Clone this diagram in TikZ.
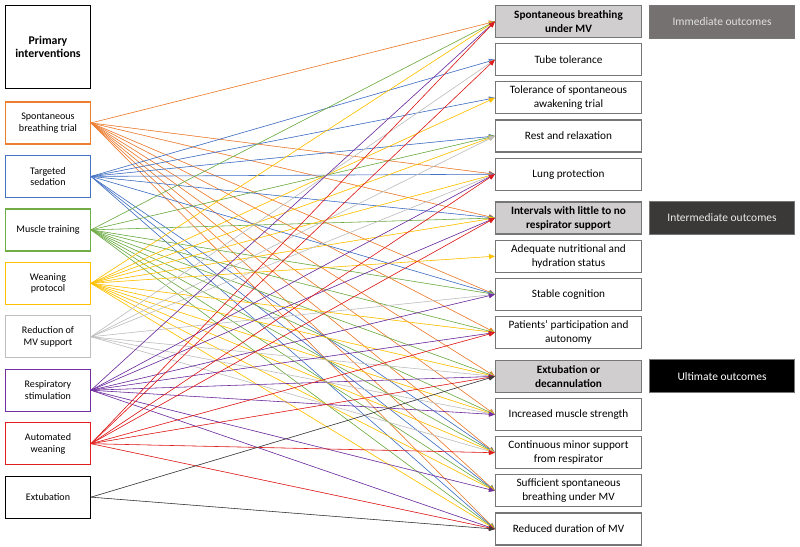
\documentclass[tikz,border=0pt]{standalone}
\usepackage{fontspec}
\setmainfont{Carlito}
\usetikzlibrary{arrows.meta, positioning}
\definecolor{sbtorange}{RGB}{237,125,49}
\definecolor{sedblue}{RGB}{68,114,196}
\definecolor{musgreen}{RGB}{112,173,71}
\definecolor{weangold}{RGB}{255,192,0}
\definecolor{mvgray}{RGB}{191,191,191}
\definecolor{stimpurple}{RGB}{112,48,160}
\definecolor{autored}{RGB}{224,30,30}
\definecolor{extblack}{RGB}{60,60,60}
\definecolor{framegray}{RGB}{118,118,118}
\definecolor{keyfill}{RGB}{208,206,206}
\definecolor{immfill}{RGB}{118,113,113}
\definecolor{intfill}{RGB}{59,56,56}

\begin{document}
\begin{tikzpicture}[
    x=0.3mm, y=-0.3mm,
    interv/.style={rectangle, draw=#1, line width=1.1pt, fill=white, minimum width=25.4mm, minimum height=12.6mm, inner sep=1pt, align=center, font=\fontsize{8.6}{10}\selectfont},
    outcome/.style={rectangle, draw=framegray, line width=1pt, fill=white, minimum width=43.8mm, minimum height=9.6mm, inner sep=1pt, align=center, font=\fontsize{9.6}{12}\selectfont},
    keyout/.style={outcome, fill=keyfill, font=\fontsize{9.6}{12}\selectfont\bfseries},
    level/.style={rectangle, draw=framegray, line width=0.8pt, fill=#1, minimum width=43.5mm, minimum height=9.9mm, align=center, font=\fontsize{9.8}{11}\selectfont},
    link/.style={-{Triangle[length=1.8mm, width=1.5mm]}, line width=0.5pt, draw=#1, fill=#1}
]
\useasboundingbox (0,0) rectangle (800,547);

% Interventions
\node[interv=black, minimum height=24.8mm, font=\fontsize{10.1}{11}\selectfont\bfseries] (prim) at (48,47) {Primary\\interventions};
\node[interv=sbtorange, below=3.7mm of prim] (sbt) {Spontaneous\\breathing trial};
\node[interv=sedblue, below=3.05mm of sbt] (sed) {Targeted\\sedation};
\node[interv=musgreen, below=3.05mm of sed] (mus) {Muscle training};
\node[interv=weangold, below=3.05mm of mus] (wean) {Weaning\\protocol};
\node[interv=mvgray, below=3.05mm of wean] (redmv) {Reduction of\\MV support};
\node[interv=stimpurple, below=3.05mm of redmv] (stim) {Respiratory\\stimulation};
\node[interv=autored, below=3.05mm of stim] (auto) {Automated\\weaning};
\node[interv=black, below=3.05mm of auto] (extub) {Extubation};

% Outcomes
\node[keyout] (o1) at (568.5,21.5) {Spontaneous breathing\\under MV};
\node[outcome, below=1.5mm of o1] (o2) {Tube tolerance};
\node[outcome, below=1.5mm of o2] (o3) {Tolerance of spontaneous\\awakening trial};
\node[outcome, below=1.5mm of o3] (o4) {Rest and relaxation};
\node[outcome, below=1.5mm of o4] (o5) {Lung protection};
\node[keyout, below=3.2mm of o5] (o6) {Intervals with little to no\\respirator support};
\node[outcome, below=1.5mm of o6] (o7) {Adequate nutritional and\\hydration status};
\node[outcome, below=1.5mm of o7] (o8) {Stable cognition};
\node[outcome, below=1.5mm of o8] (o9) {Patients’ participation and\\autonomy};
\node[keyout, below=3.2mm of o9] (o10) {Extubation or\\decannulation};
\node[outcome, below=1.5mm of o10] (o11) {Increased muscle strength};
\node[outcome, below=1.5mm of o11] (o12) {Continuous minor support\\from respirator};
\node[outcome, below=1.5mm of o12] (o13) {Sufficient spontaneous\\breathing under MV};
\node[outcome, below=1.5mm of o13] (o14) {Reduced duration of MV};

% Outcome levels
\node[level=immfill, text=black!12, right=2.1mm of o1] (imm) {Immediate outcomes};
\node[level=intfill, text=black!8, right=2.1mm of o6] (inter) {Intermediate outcomes};
\node[level=black, text=white, right=2.1mm of o10] (ult) {Ultimate outcomes};

% Connectors
\foreach \t in {o1,o5,o6,o8,o9,o10,o11,o12,o13,o14}
    \draw[link=sbtorange] (sbt.east) -- (\t.west);
\foreach \t in {o2,o3,o4,o5,o6,o8,o12,o13,o14}
    \draw[link=sedblue] (sed.east) -- (\t.west);
\foreach \t in {o1,o4,o6,o8,o9,o10,o11,o12,o13,o14}
    \draw[link=musgreen] (mus.east) -- (\t.west);
\foreach \t in {o1,o3,o4,o5,o6,o7,o9,o10,o11,o12,o13,o14}
    \draw[link=weangold] (wean.east) -- (\t.west);
\foreach \t in {o2,o4,o5,o8,o10,o11,o12}
    \draw[link=mvgray] (redmv.east) -- (\t.west);
\foreach \t in {o1,o5,o6,o8,o9,o10,o11,o13,o14}
    \draw[link=stimpurple] (stim.east) -- (\t.west);
\foreach \t in {o1,o2,o5,o6,o9,o10,o12,o14}
    \draw[link=autored] (auto.east) -- (\t.west);
\foreach \t in {o10,o14}
    \draw[link=extblack] (extub.east) -- (\t.west);

\end{tikzpicture}
\end{document}
